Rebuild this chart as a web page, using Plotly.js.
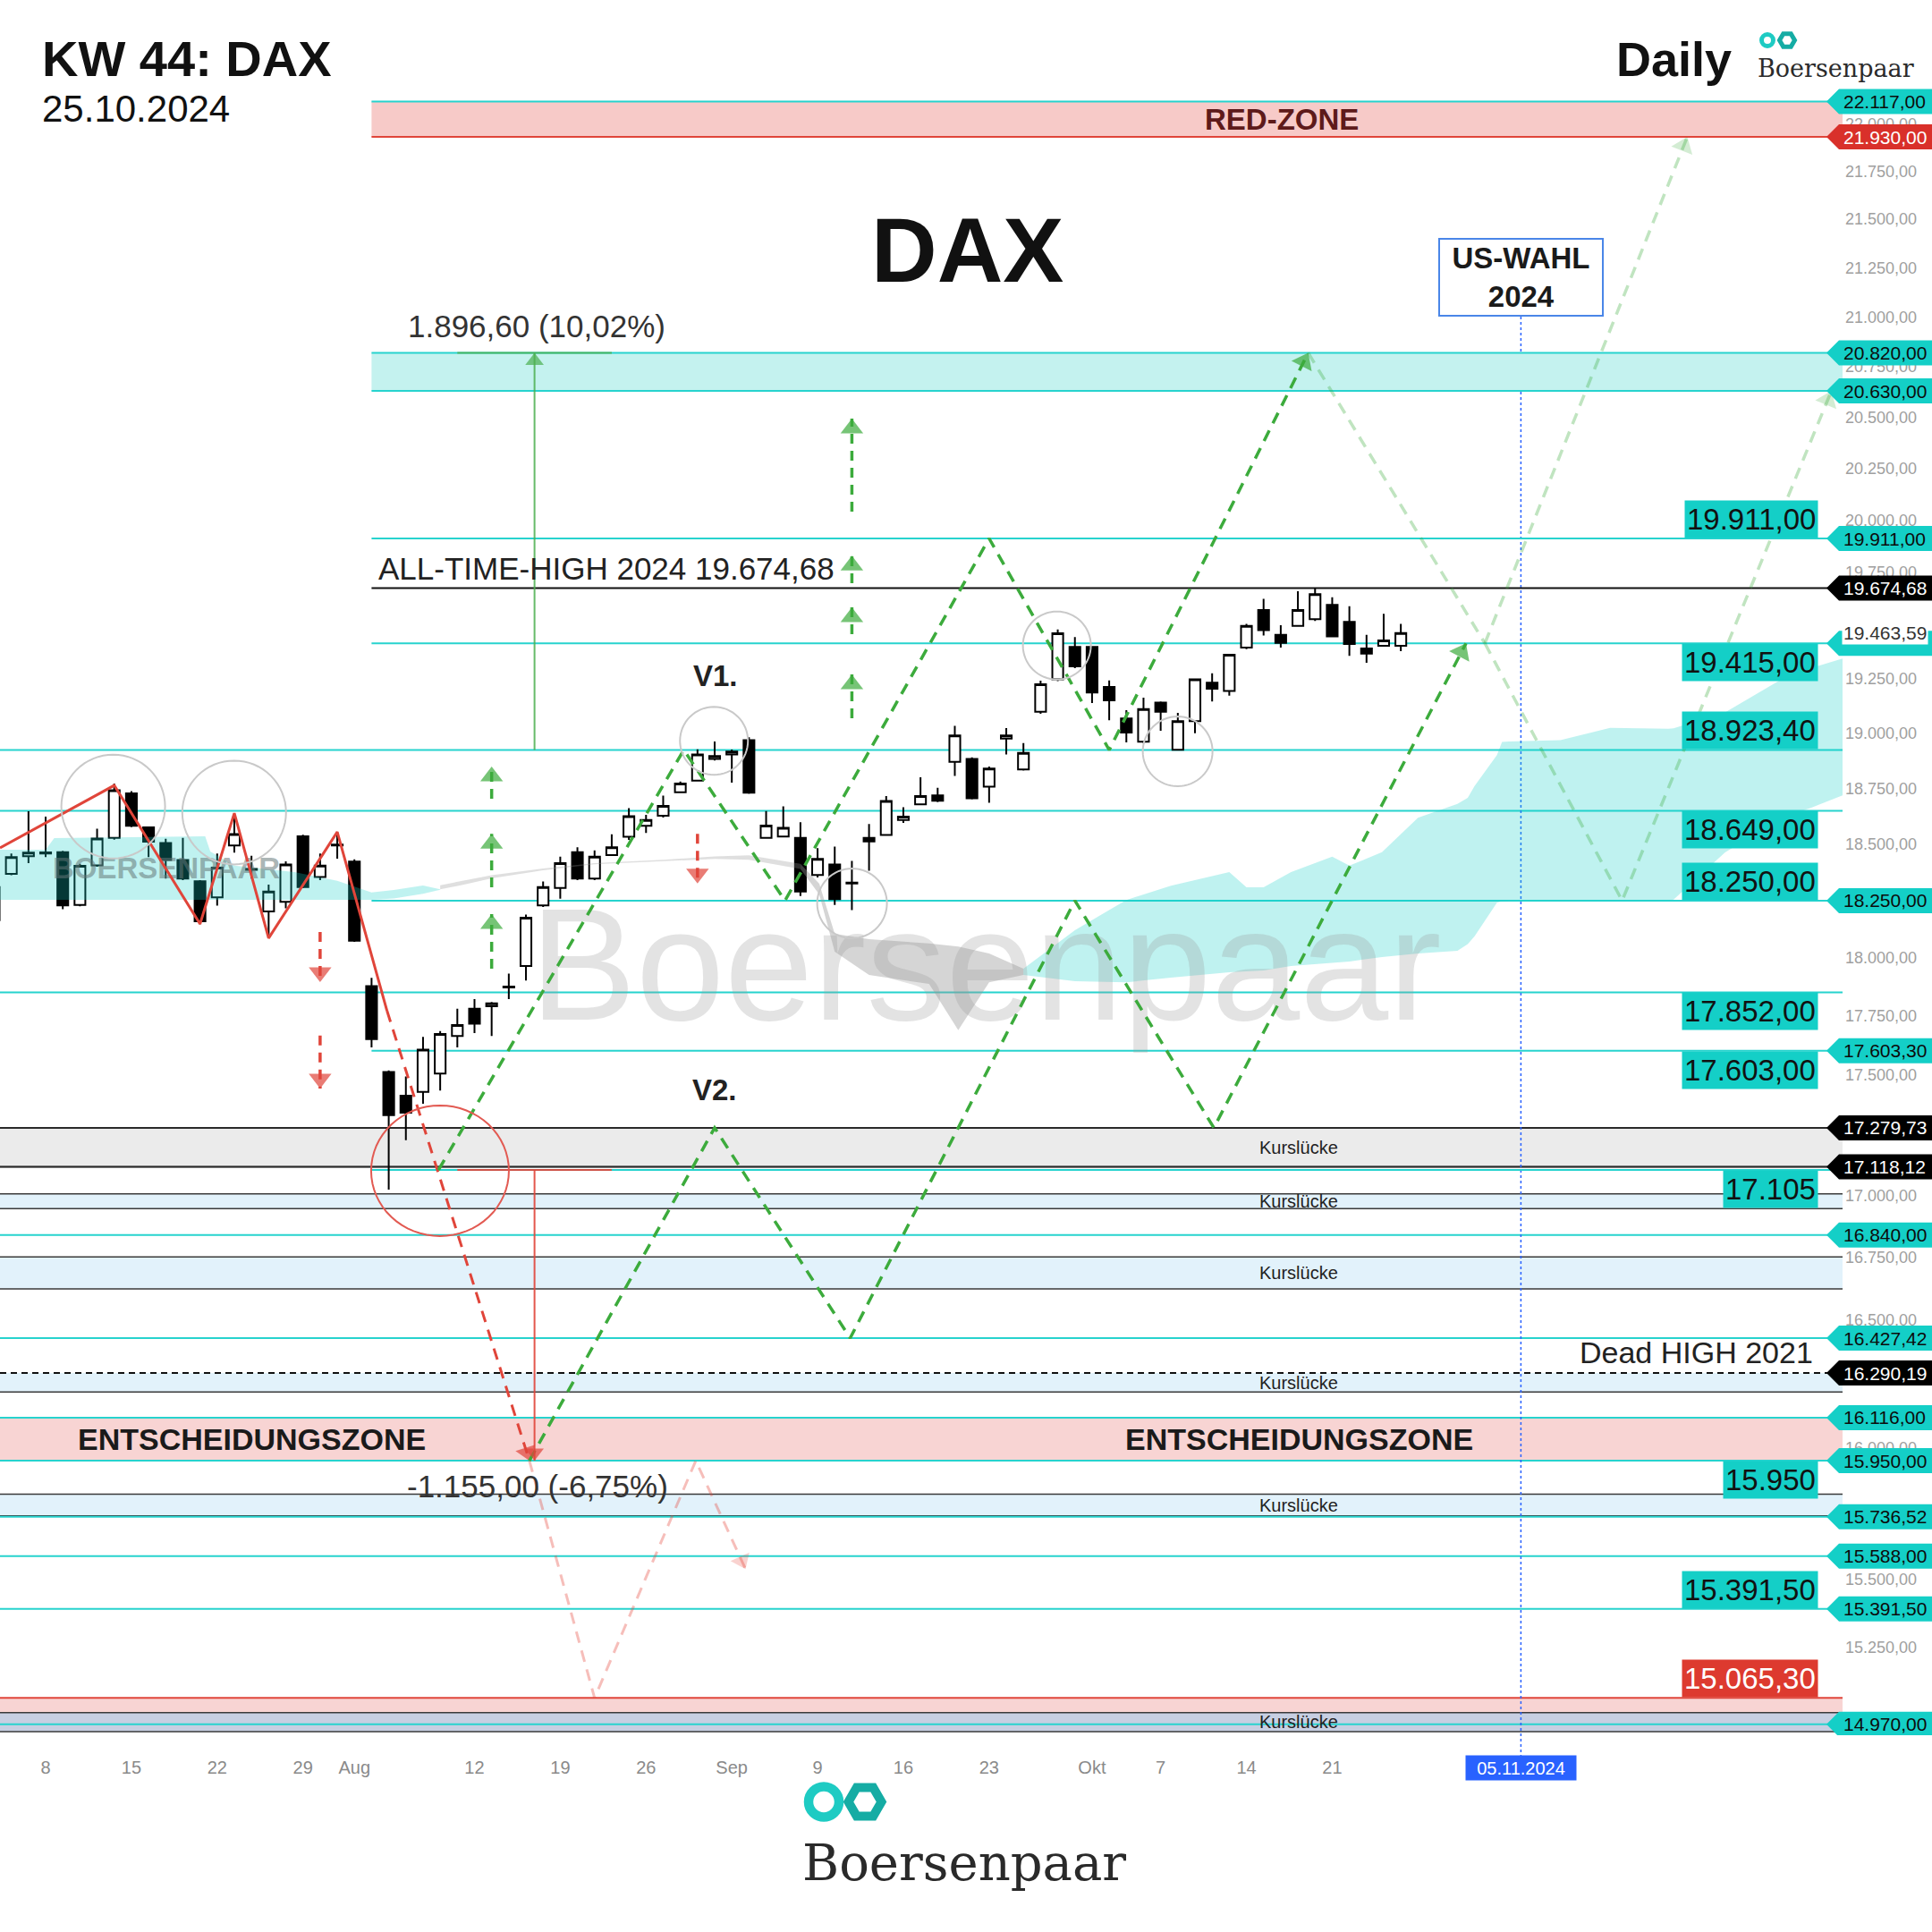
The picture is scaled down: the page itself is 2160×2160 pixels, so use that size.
<!DOCTYPE html>
<html>
<head>
<meta charset="utf-8">
<script src="https://cdn.plot.ly/plotly-3.0.1.min.js"></script>
<style>
html,body{margin:0;padding:0;background:#ffffff;}
#chart{width:2160px;height:2160px;}
</style>
</head>
<body>
<div id="chart"></div>
<script>
// ===================== DATA =====================
const candleDates = [
'2024-07-03','2024-07-04','2024-07-05',
'2024-07-08','2024-07-09','2024-07-10','2024-07-11','2024-07-12',
'2024-07-15','2024-07-16','2024-07-17','2024-07-18','2024-07-19',
'2024-07-22','2024-07-23','2024-07-24','2024-07-25','2024-07-26',
'2024-07-29','2024-07-30','2024-07-31','2024-08-01','2024-08-02',
'2024-08-05','2024-08-06','2024-08-07','2024-08-08','2024-08-09',
'2024-08-12','2024-08-13','2024-08-14','2024-08-15','2024-08-16',
'2024-08-19','2024-08-20','2024-08-21','2024-08-22','2024-08-23',
'2024-08-26','2024-08-27','2024-08-28','2024-08-29','2024-08-30',
'2024-09-02','2024-09-03','2024-09-04','2024-09-05','2024-09-06',
'2024-09-09','2024-09-10','2024-09-11','2024-09-12','2024-09-13',
'2024-09-16','2024-09-17','2024-09-18','2024-09-19','2024-09-20',
'2024-09-23','2024-09-24','2024-09-25','2024-09-26','2024-09-27',
'2024-09-30','2024-10-01','2024-10-02','2024-10-03','2024-10-04',
'2024-10-07','2024-10-08','2024-10-09','2024-10-10','2024-10-11',
'2024-10-14','2024-10-15','2024-10-16','2024-10-17','2024-10-18',
'2024-10-21','2024-10-22','2024-10-23','2024-10-24','2024-10-25'];
const candleOpen = [
18165,18368,18446,
18458,18464,18231,18405,18528,
18727,18574,18505,18429,18335,
18264,18494,18390,18203,18245,
18535,18354,18494,18422,17879,
17513,17414,17430,17507,17665,
17782,17792,17873,17965,18229,
18306,18464,18347,18451,18533,
18581,18627,18732,18784,18883,
18903,18968,18528,18534,18528,
18363,18409,18325,18528,18541,
18607,18678,18718,18869,18883,
18757,18975,18835,19098,19248,
19398,19398,19213,19067,18961,
19140,18924,19055,19232,19194,
19395,19571,19455,19497,19528,
19596,19516,19391,19404,19404];
const candleHigh = [
18380,18458,18647,
18623,18470,18412,18568,18771,
18737,18578,18524,18528,18340,
18458,18639,18448,18321,18423,
18542,18458,18555,18432,17914,
17520,17494,17662,17686,17782,
17823,17810,17933,18189,18334,
18444,18486,18472,18544,18661,
18631,18717,18780,18926,18962,
18925,18981,18648,18669,18597,
18482,18489,18425,18589,18715,
18665,18800,18752,19034,18890,
18848,19023,18955,19242,19480,
19444,19400,19243,19105,19163,
19145,19093,19252,19276,19365,
19506,19624,19500,19660,19674.68,
19631,19589,19455,19553,19506];
const candleLow = [
18150,18362,18415,
18442,18212,18225,18400,18520,
18575,18442,18347,18340,18147,
18228,18462,18347,18086,18216,
18305,18340,18435,18070,17617,
17025,17228,17380,17435,17617,
17678,17665,17823,17903,18222,
18259,18340,18340,18448,18519,
18550,18618,18728,18780,18876,
18775,18725,18525,18530,18270,
18352,18231,18209,18382,18538,
18594,18675,18688,18806,18700,
18685,18903,18830,19089,19239,
19300,19138,19059,18958,18955,
19011,18920,19000,19146,19172,
19388,19452,19395,19493,19520,
19445,19357,19324,19400,19379];
const candleClose = [
18310,18442,18462,
18463,18229,18403,18525,18741,
18581,18511,18429,18347,18160,
18396,18545,18386,18290,18409,
18310,18404,18498,18075,17652,
17332,17343,17608,17674,17712,
17718,17805,17877,18175,18310,
18415,18347,18444,18486,18625,
18607,18671,18771,18903,18896,
18916,18730,18582,18572,18290,
18434,18257,18329,18512,18693,
18623,18715,18694,18990,18705,
18839,18990,18910,19225,19462,
19308,19187,19151,19003,19111,
19098,19055,19248,19204,19362,
19497,19477,19417,19571,19646,
19448,19412,19367,19429,19463.59];

const tickDates  = ['2024-07-08','2024-07-15','2024-07-22','2024-07-29','2024-08-01','2024-08-12','2024-08-19','2024-08-26','2024-09-02','2024-09-09','2024-09-16','2024-09-23','2024-10-01','2024-10-07','2024-10-14','2024-10-21'];
const tickLabels = ['8','15','22','29','Aug','12','19','26','Sep','9','16','23','Okt','7','14','21'];
const electionDate = '2024-11-05';
const electionLabel = '05.11.2024';
const levelStartDate = '2024-08-02';

// price scale ticks (values fully hidden behind tags are left out)
const priceTicks = [15250,15500,16000,16500,16750,17000,17500,17750,18000,18500,18750,19000,19250,19750,20000,20250,20500,20750,21000,21250,21500,21750,22000];

// horizontal levels
const cyanLevelsFromAug = [22117, 20820, 20630, 19911, 19415, 18250, 17603, 17105];
const cyanLevelsFull = [18923.4, 18649, 17852, 16840, 16427.42, 16116, 15950, 15736.52, 15588, 15391.5, 14970];
const redLevelsFromAug = [21930];
const redLevelsFull = [15065.3];
const athLevel = 19674.68;
const blackLevelsFull = [17279.73, 17118.12];
const deadHigh2021 = 16290.19;
const redZone = [21930, 22117];
const targetZone = [20630, 20820];
const decisionZone = [15950, 16116];
const lowPinkZone = [15012, 15065.3];
const gapZones = [[17118.12,17279.73],[16947,17007],[16623,16751],[16216,16290.19],[15740,15822],[14944,15012]];

// big value boxes
const boxLevels = [19911, 19415, 18923.4, 18649, 18250, 17852, 17603, 17105, 15950, 15391.5, 15065.3];
const boxLabels = ['19.911,00','19.415,00','18.923,40','18.649,00','18.250,00','17.852,00','17.603,00','17.105','15.950','15.391,50','15.065,30'];
const boxAbove  = [true,false,true,false,true,false,false,false,false,true,true];

// price tags on the right scale (c = cyan, r = red, k = black, h = cyan hidden text)
const tagLevels = [22117, 21930, 20820, 20630, 19911, 19674.68, 19415, 18250, 17603.3, 17279.73, 17118.12, 16840, 16427.42, 16290.19, 16116, 15950, 15736.52, 15588, 15391.5, 14970];
const tagKinds  = ['c','r','c','c','c','k','h','c','c','k','k','c','c','k','c','c','c','c','c','c'];
const lastPrice = 19463.59;

// Ichimoku cloud (bar index, price)
const cloudAX = [-3, 0, 0.5, 9.3, 9.6, 11, 14.5, 17, 19, 20.3, 22, 23];
const cloudATop = [18475, 18475, 18527, 18535, 18467, 18404, 18376, 18337, 18286, 18297, 18317, 18300];
const cloudABot = [18254, 18254, 18254, 18254, 18254, 18254, 18254, 18254, 18254, 18260, 18280, 18298];
const cloudRibX = [23, 24.5, 26, 29, 32, 36, 39, 41, 44];
const cloudRibTop = [18318, 18340, 18362, 18392, 18415, 18430, 18445, 18450, 18412];
const cloudRibBot = [18300, 18322, 18348, 18384, 18410, 18424, 18434, 18430, 18390];
const cloudGrayX = [44, 45.1, 46, 48, 51.5, 53.2, 55, 57];
const cloudGrayTop = [18412, 18324, 18105, 18082, 18063, 18050, 18020, 17954];
const cloudGrayBot = [18390, 18277, 18027, 17927, 17888, 17690, 17895, 17927];
const cloudBX = [57, 60, 63, 65.6, 69, 70, 71, 72.6, 75, 76, 77.9, 80, 82.3, 82.9, 83.3, 84.6, 84.9, 85.3, 88.3, 91.2, 94.6, 94.9, 97.9, 101.3, 102.9, 104.8];
const cloudBTop = [17954, 18121, 18253, 18316, 18376, 18309, 18309, 18376, 18444, 18404, 18464, 18617, 18680, 18707, 18760, 18900, 18960, 18962, 18968, 19024, 19020, 19022, 19095, 19253, 19300, 19345];
const cloudBBot = [17927, 17900, 17895, 17915, 17938, 17942, 17946, 17965, 17980, 17985, 18004, 18020, 18031, 18060, 18094, 18241, 18248, 18250, 18250, 18250, 18250, 18255, 18463, 18622, 18662, 18719];

// drawings (bar index, price)
const redZigX = [-2.66, 4, 9, 11, 13, 17, 19.9];
const redZigP = [18483, 18763, 18148, 18638, 18086, 18554, 17773];
const redDashX = [19.9, 28.2];
const redDashP = [17773, 15950];
const greenV1X = [22.9, 37.2, 43.1, 55, 62, 73.6];
const greenV1P = [17105, 18923.4, 18250, 19911, 18923.4, 20820];
const greenV2X = [28.2, 39, 46.9, 60, 68.1, 82.8];
const greenV2P = [15950, 17279.73, 16427.42, 18250, 17279.73, 19415];
const paleAX = [73.6, 83.9];
const paleAP = [20820, 19415];
const paleBX = [83.9, 95.7];
const paleBP = [19415, 21930];
const paleCX = [83.9, 91.9, 104.1];
const paleCP = [19415, 18250, 20630];
const paleRedX = [28.2, 32, 37.9, 40.8];
const paleRedP = [15950, 15065.3, 15950, 15540];
const greenUpA = {x: 47, tails: [20040, 19698, 19458, 19068], tips: [20493, 19829, 19584, 19270]};
const greenUpB = {x: 26, tails: [18703, 18309, 17954], tips: [18848, 18546, 18191]};
const redDownA = {x: 16, tails: [18113, 17667], tips: [17896, 17444]};
const redDownB = {x: 38, tails: [18546], tips: [18325]};
const measureX = 28.5;
const measureUp = [18923.4, 20820];
const measureDown = [17105, 15950];
const measureSpan = [24, 33];
const grayCircles = [[3.94,18668,58],[10.99,18641,58],[38.96,18965,38],[47.01,18238,39],[58.95,19405,38],[65.99,18917,39]];
const redCircle = [22.99, 17102, 77, 73];

// ===================== HELPERS =====================
const FONT = 'Liberation Sans, Arial, sans-serif';
const SERIF = 'DejaVu Serif, serif';
const PLOT_W = 2060, PLOT_H = 1940;
const px = v => v / PLOT_W;
const py = v => (PLOT_H - v) / PLOT_H;
const L = v => Math.log10(v);
const xRange = [-2.66, 104.75];
const yRange = [Math.log10(14931), Math.log10(22664)];

function tdIndex(ds) {
  const base = Date.UTC(2024, 6, 8);
  const d = Date.UTC(+ds.slice(0,4), +ds.slice(5,7)-1, +ds.slice(8,10));
  const step = d >= base ? 1 : -1;
  let t = base, n = 0;
  while (t !== d) {
    t += step * 86400000;
    const wd = new Date(t).getUTCDay();
    if (wd !== 0 && wd !== 6) n += step;
  }
  return n;
}
function de(v, dec) {
  const s = v.toFixed(dec);
  let parts = s.split('.');
  let i = parts[0].replace(/\B(?=(\d{3})+(?!\d))/g, '.');
  return parts[1] ? i + ',' + parts[1] : i;
}

const CYAN = '#14cfc7';
const CYAN_LINE = '#27d3ce';
const RED = '#e0453a';
const GREEN = '#3cab3c';
const shapes = [];
const annotations = [];
const traces = [];

const startIdx = tdIndex(levelStartDate);
const electionIdx = tdIndex(electionDate);

// ---- bands ----
function band(lo, hi, fill, fromIdx) {
  shapes.push({type:'rect', layer:'below', xref: fromIdx == null ? 'paper' : 'x',
    x0: fromIdx == null ? 0 : fromIdx, x1: fromIdx == null ? 1 : xRange[1] + 5,
    yref:'y', y0: lo, y1: hi, fillcolor: fill, line:{width:0}});
}
function hline(v, fromIdx, color, width, dash) {
  shapes.push({type:'line', layer:'below', xref: fromIdx == null ? 'paper' : 'x',
    x0: fromIdx == null ? 0 : fromIdx, x1: fromIdx == null ? 1 : xRange[1] + 5,
    yref:'y', y0: v, y1: v, line:{color: color, width: width, dash: dash || 'solid'}});
}
band(redZone[0], redZone[1], '#f7cac8', startIdx);
band(targetZone[0], targetZone[1], '#c4f2ef', startIdx);
band(decisionZone[0], decisionZone[1], '#f8d4d3', null);
band(lowPinkZone[0], lowPinkZone[1], '#f8d4d3', null);
gapZones.forEach((g, k) => {
  band(g[0], g[1], k === 0 ? '#ebebeb' : (k === gapZones.length - 1 ? '#c7cfe2' : '#e2f2fb'), null);
});
gapZones.forEach((g) => {
  hline(g[0], null, '#3a3a3a', 1.5);
  if (g[1] !== deadHigh2021) hline(g[1], null, '#3a3a3a', 1.5);
});
cyanLevelsFromAug.forEach(v => hline(v, startIdx, CYAN_LINE, 2));
cyanLevelsFull.forEach(v => hline(v, null, CYAN_LINE, 2));
redLevelsFromAug.forEach(v => hline(v, startIdx, RED, 2));
redLevelsFull.forEach(v => hline(v, null, RED, 2));
hline(athLevel, startIdx, '#111111', 2);
blackLevelsFull.forEach(v => hline(v, null, '#2a2a2a', 2));
hline(deadHigh2021, null, '#111111', 2, '7px,5px');

// election marker line
shapes.push({type:'line', layer:'below', xref:'x', x0: electionIdx, x1: electionIdx, yref:'paper', y0: py(1965), y1: py(354),
  line:{color:'#2962ff', width:1.5, dash:'dot'}});

// circles (drawn as pixel-sized polygons anchored at a bar / price)
function ellipsePath(rx, ry) {
  let d = '';
  const n = 64;
  for (let k = 0; k < n; k++) {
    const a = 2 * Math.PI * k / n;
    d += (k ? 'L' : 'M') + (rx * Math.cos(a)).toFixed(2) + ',' + (ry * Math.sin(a)).toFixed(2);
  }
  return d + 'Z';
}
grayCircles.forEach(c => {
  shapes.push({type:'path', layer:'above', xref:'x', yref:'y', xsizemode:'pixel', ysizemode:'pixel',
    xanchor:c[0], yanchor:c[1], path: ellipsePath(c[2], c[2]), line:{color:'#c9c9c9', width:2}});
});
shapes.push({type:'path', layer:'above', xref:'x', yref:'y', xsizemode:'pixel', ysizemode:'pixel',
  xanchor:redCircle[0], yanchor:redCircle[1], path: ellipsePath(redCircle[2], redCircle[3]),
  line:{color:'#e25a52', width:2}});

// ---- cloud traces ----
function cloud(xs, top, bot, fill) {
  traces.push({type:'scatter', mode:'lines', x: xs, y: bot, line:{width:0, color:fill}, hoverinfo:'skip', showlegend:false});
  traces.push({type:'scatter', mode:'lines', x: xs, y: top, line:{width:0, color:fill}, fill:'tonexty', fillcolor: fill, hoverinfo:'skip', showlegend:false});
}
cloud(cloudAX, cloudATop, cloudABot, 'rgba(20,207,199,0.27)');
cloud(cloudRibX, cloudRibTop, cloudRibBot, 'rgba(150,150,150,0.3)');
cloud(cloudGrayX, cloudGrayTop, cloudGrayBot, 'rgba(150,150,150,0.4)');
cloud(cloudBX, cloudBTop, cloudBBot, 'rgba(20,207,199,0.27)');

// ---- watermarks ----
traces.push({type:'scatter', mode:'text', x:[54.8], y:[17907], text:['Boersenpaar'], textposition:'middle center',
  textfont:{family:FONT, size:178, color:'rgba(150,150,150,0.27)'}, hoverinfo:'skip', showlegend:false});
traces.push({type:'scatter', mode:'text', x:[7.04], y:[18380], text:['<b>BOERSENPAAR</b>'], textposition:'middle center',
  textfont:{family:FONT, size:33, color:'rgba(100,118,118,0.55)'}, hoverinfo:'skip', showlegend:false});

// ---- candles ----
traces.push({type:'candlestick', x: candleDates.map(tdIndex), open: candleOpen, high: candleHigh, low: candleLow, close: candleClose,
  increasing:{line:{color:'#000000', width:2}, fillcolor:'#ffffff'},
  decreasing:{line:{color:'#000000', width:2}, fillcolor:'#000000'},
  whiskerwidth:0, hoverinfo:'skip', showlegend:false});

// ---- drawings ----
function lineTrace(xs, ps, color, width, dash) {
  traces.push({type:'scatter', mode:'lines', x: xs, y: ps, line:{color: color, width: width, dash: dash || 'solid'}, hoverinfo:'skip', showlegend:false});
}
function headTrace(xs, ps, color, size) {
  const n = xs.length;
  traces.push({type:'scatter', mode:'markers', x:[xs[n-2], xs[n-1]], y:[ps[n-2], ps[n-1]],
    marker:{symbol:'triangle-up', size:[0, size], color: color, angleref:'previous', standoff: size/2, line:{width:0}},
    hoverinfo:'skip', showlegend:false});
}
const DASH = '13px,9px';
lineTrace(redZigX, redZigP, RED, 3);
lineTrace(redDashX, redDashP, RED, 3, DASH); headTrace(redDashX, redDashP, RED, 20);
lineTrace(paleRedX, paleRedP, 'rgba(229,69,58,0.35)', 3, DASH); headTrace(paleRedX, paleRedP, 'rgba(229,69,58,0.35)', 20);
lineTrace(greenV1X, greenV1P, GREEN, 3.5, DASH); headTrace(greenV1X, greenV1P, GREEN, 22);
lineTrace(greenV2X, greenV2P, GREEN, 3.5, DASH); headTrace(greenV2X, greenV2P, GREEN, 22);
const PALE = 'rgba(60,171,60,0.32)';
lineTrace(paleAX, paleAP, PALE, 3.5, DASH);
lineTrace(paleBX, paleBP, PALE, 3.5, DASH); headTrace(paleBX, paleBP, PALE, 22);
lineTrace(paleCX, paleCP, PALE, 3.5, DASH); headTrace(paleCX, paleCP, PALE, 22);
[greenUpA, greenUpB].forEach(g => g.tails.forEach((t, k) => {
  lineTrace([g.x, g.x], [t, g.tips[k]], GREEN, 3.5, '11px,8px'); headTrace([g.x, g.x], [t, g.tips[k]], GREEN, 22);
}));
[redDownA, redDownB].forEach(g => g.tails.forEach((t, k) => {
  lineTrace([g.x, g.x], [t, g.tips[k]], RED, 3.5, '11px,8px'); headTrace([g.x, g.x], [t, g.tips[k]], RED, 22);
}));
// measurements
lineTrace([measureX, measureX], measureUp, 'rgba(76,175,80,0.85)', 2); headTrace([measureX, measureX], measureUp, 'rgba(76,175,80,1)', 18);
lineTrace(measureSpan, [measureUp[1], measureUp[1]], 'rgba(76,175,80,0.85)', 2);
lineTrace([measureX, measureX], measureDown, 'rgba(224,69,58,0.9)', 2); headTrace([measureX, measureX], measureDown, RED, 18);
lineTrace(measureSpan, [measureDown[0], measureDown[0]], 'rgba(224,69,58,0.9)', 2);

// ---- big value boxes ----
boxLevels.forEach((v, k) => {
  const red = v === 15065.3;
  annotations.push({xref:'paper', yref:'y', x: px(2033), y: L(v), xanchor:'right', yanchor: boxAbove[k] ? 'bottom' : 'top',
    text: boxLabels[k], showarrow:false, bgcolor: red ? '#dd3a2f' : CYAN, borderpad:2,
    font:{family:FONT, size:33, color: red ? '#ffffff' : '#111111'}});
});

// ---- right-side tags ----
tagLevels.forEach((v, k) => {
  const kind = tagKinds[k];
  const bg = (kind === 'c' || kind === 'h') ? CYAN : (kind === 'r' ? '#d9302a' : '#000000');
  const fg = (kind === 'c' || kind === 'h') ? '#0c0c0c' : '#ffffff';
  shapes.push({type:'path', layer:'above', xref:'paper', yref:'y', xsizemode:'pixel', ysizemode:'pixel',
    xanchor:1, yanchor:v, path:'M-18,0L-4,14L100,14L100,-14L-4,-14Z', fillcolor:bg, line:{width:0}});
  if (kind !== 'h') {
    annotations.push({xref:'paper', yref:'y', x:1, y:L(v), xanchor:'center', xshift:47, text: de(v, 2), showarrow:false,
      font:{family:FONT, size:21, color: fg}});
  }
});
annotations.push({xref:'paper', yref:'y', x:1, y:L(lastPrice), xanchor:'center', xshift:47, text: de(lastPrice, 2), showarrow:false,
  bgcolor:'#ffffff', borderpad:1, font:{family:FONT, size:21, color:'#333333'}});

// ---- texts ----
function txt(o) { annotations.push(Object.assign({showarrow:false}, o)); }
txt({xref:'paper', yref:'paper', x:px(45), y:py(66), xanchor:'left', yanchor:'middle', text:'<b>KW 44: DAX</b>', font:{family:FONT, size:56, color:'#111111'}});
txt({xref:'paper', yref:'paper', x:px(45), y:py(121), xanchor:'left', yanchor:'middle', text:'25.10.2024', font:{family:FONT, size:42, color:'#111111'}});
txt({xref:'paper', yref:'paper', x:px(1805), y:py(66), xanchor:'left', yanchor:'middle', text:'<b>Daily</b>', font:{family:FONT, size:54, color:'#111111'}});
txt({xref:'paper', yref:'paper', x:px(1963), y:py(77), xanchor:'left', yanchor:'middle', text:'Boersenpaar', font:{family:SERIF, size:27, color:'#2b2b2b'}});
txt({xref:'paper', yref:'paper', x:px(1081), y:py(280), xanchor:'center', yanchor:'middle', text:'<b>DAX</b>', font:{family:FONT, size:102, color:'#111111'}});
txt({xref:'x', yref:'y', x:72.05, y:L(Math.sqrt(redZone[0]*redZone[1])), xanchor:'center', yanchor:'middle', text:'<b>RED-ZONE</b>', font:{family:FONT, size:33, color:'#5e1a1a'}});
txt({xref:'paper', yref:'y', x:px(454), y:L(measureUp[1]), xanchor:'left', yanchor:'bottom', yshift:8, text:'1.896,60 (10,02%)', font:{family:FONT, size:35, color:'#333333'}});
txt({xref:'paper', yref:'y', x:px(421), y:L(athLevel), xanchor:'left', yanchor:'bottom', yshift:1, text:'ALL-TIME-HIGH 2024 19.674,68', font:{family:FONT, size:35, color:'#222222'}});
txt({xref:'paper', yref:'y', x:px(453), y:L(measureDown[1]), xanchor:'left', yanchor:'top', yshift:-7, text:'-1.155,00 (-6,75%)', font:{family:FONT, size:35, color:'#333333'}});
txt({xref:'paper', yref:'paper', x:px(800), y:py(756), xanchor:'center', yanchor:'middle', text:'<b>V1.</b>', font:{family:FONT, size:33, color:'#222222'}});
txt({xref:'paper', yref:'paper', x:px(799), y:py(1218), xanchor:'center', yanchor:'middle', text:'<b>V2.</b>', font:{family:FONT, size:33, color:'#222222'}});
const decMid = L(Math.sqrt(decisionZone[0]*decisionZone[1]));
txt({xref:'paper', yref:'y', x:px(281), y:decMid, xanchor:'center', yanchor:'middle', text:'<b>ENTSCHEIDUNGSZONE</b>', font:{family:FONT, size:34, color:'#1a1a1a'}});
txt({xref:'paper', yref:'y', x:px(1452), y:decMid, xanchor:'center', yanchor:'middle', text:'<b>ENTSCHEIDUNGSZONE</b>', font:{family:FONT, size:34, color:'#1a1a1a'}});
gapZones.forEach(g => {
  txt({xref:'paper', yref:'y', x:px(1452), y:L(Math.sqrt(g[0]*g[1])), xanchor:'center', yanchor:'middle', text:'Kurslücke', font:{family:FONT, size:20, color:'#222222'}});
});
txt({xref:'paper', yref:'y', x:px(2029), y:L(deadHigh2021), xanchor:'right', yanchor:'bottom', yshift:2, text:'Dead HIGH 2021', font:{family:FONT, size:34, color:'#222222'}});
txt({xref:'x', yref:'paper', x:electionIdx, y:py(310), xanchor:'center', yanchor:'middle', text:'<b>US-WAHL</b><br><b>2024</b>',
  width:181, height:84, align:'center', bgcolor:'#ffffff', bordercolor:'#4a86e8', borderwidth:2, borderpad:0,
  font:{family:FONT, size:33, color:'#1a1a1a'}});
txt({xref:'x', yref:'paper', x:electionIdx, y:py(1977), xanchor:'center', yanchor:'middle', text:electionLabel,
  width:121, height:25, bgcolor:'#2962ff', borderpad:1, font:{family:FONT, size:20, color:'#ffffff'}});
txt({xref:'paper', yref:'paper', x:px(895), y:py(2082), xanchor:'left', yanchor:'middle', text:'Boersenpaar', font:{family:SERIF, size:56, color:'#2a2a2a'}});

// ---- logos ----
function ring(cx, cy, r, w, color) {
  shapes.push({type:'circle', layer:'above', xref:'paper', yref:'paper', x0:px(cx-r), x1:px(cx+r), y0:py(cy+r), y1:py(cy-r), line:{color:color, width:w}});
}
function hexagon(cx, cy, r, w, color) {
  let d = '';
  for (let k = 0; k < 6; k++) {
    const a = k * Math.PI / 3;
    d += (k ? 'L' : 'M') + px(cx + r*Math.cos(a)).toFixed(5) + ',' + py(cy + r*Math.sin(a)).toFixed(5);
  }
  shapes.push({type:'path', layer:'above', xref:'paper', yref:'paper', path: d + 'Z', line:{color:color, width:w}});
}
ring(921, 2014.5, 17, 10.5, '#1ecbc3');
hexagon(967, 2014.5, 18.5, 10, '#15aca4');
ring(1976, 45, 6.5, 5, '#1ecbc3');
hexagon(1998, 45, 8.5, 5, '#15aca4');

// ===================== LAYOUT =====================
const layout = {
  width:2160, height:2160,
  margin:{l:0, r:2160-PLOT_W, t:0, b:2160-PLOT_H, pad:0},
  paper_bgcolor:'#ffffff', plot_bgcolor:'#ffffff',
  separators:',.', showlegend:false, boxgap:0.1,
  font:{family:FONT},
  xaxis:{type:'linear', range:xRange, showgrid:false, zeroline:false, showline:false,
    tickmode:'array', tickvals: tickDates.map(tdIndex), ticktext: tickLabels, ticks:'',
    tickfont:{family:FONT, size:20, color:'#8a8a8a'}, ticklabelstandoff:22,
    rangeslider:{visible:false}, fixedrange:true},
  yaxis:{type:'log', range:yRange, side:'right', showgrid:false, zeroline:false, showline:false,
    tickmode:'array', tickvals: priceTicks, tickformat:',.2f', ticksuffix:' -', ticks:'',
    tickfont:{family:FONT, size:18, color:'#a0a0a0'}, ticklabelstandoff:2, fixedrange:true},
  shapes: shapes,
  annotations: annotations
};
Plotly.newPlot('chart', traces, layout, {staticPlot:true, displayModeBar:false});
</script>
</body>
</html>
